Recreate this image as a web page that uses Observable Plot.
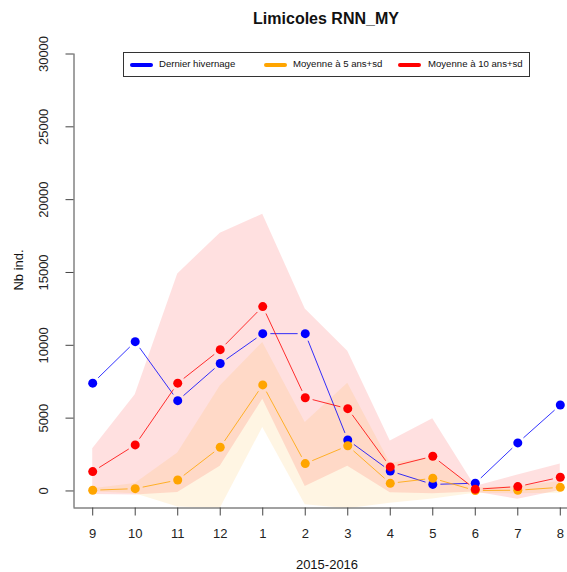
<!DOCTYPE html>
<html>
<head>
<meta charset="utf-8">
<script src="https://cdn.jsdelivr.net/npm/d3@7"></script>
<script src="https://cdn.jsdelivr.net/npm/@observablehq/plot@0.6"></script>
<style>
  html, body { margin: 0; padding: 0; background: #fff; }
  #wrap { position: relative; width: 567px; height: 572px; font-family: "Liberation Sans", Arial, sans-serif; color: #111; overflow: hidden; }
  #chart { position: absolute; left: 0; top: 0; }
  .abs { position: absolute; white-space: nowrap; }
  #title { left: 176px; width: 300px; top: 10px; text-align: center; font-weight: bold; font-size: 16px; line-height: 18px; }
  #ylab { left: 18px; top: 270px; font-size: 13px; transform: translate(-50%, -50%) rotate(-90deg); }
  #xlab { left: 327px; top: 564px; font-size: 13px; transform: translate(-50%, -50%); }
  #legend { left: 123px; top: 52px; width: 405px; height: 23px; border: 1px solid #333; background: #fff; }
  .sw { position: absolute; top: 10px; height: 4px; border-radius: 2px; width: 23px; }
  .lt { position: absolute; top: 5px; font-size: 9.6px; line-height: 12px; }
</style>
</head>
<body>
<div id="wrap">
  <div id="chart"></div>
  <div id="title" class="abs">Limicoles RNN_MY</div>
  <div id="ylab" class="abs">Nb ind.</div>
  <div id="xlab" class="abs">2015-2016</div>
  <div id="legend" class="abs"></div>
</div>
<script>
// ---- data ----
const months = ["9", "10", "11", "12", "1", "2", "3", "4", "5", "6", "7", "8"];
const dernier = [7400, 10250, 6200, 8750, 10800, 10800, 3500, 1370, 450, 530, 3300, 5900];
const moy5 = [50, 160, 750, 3000, 7280, 1880, 3100, 525, 870, 30, 50, 250];
const moy5Low = [-50, -190, -1100, -1200, 4360, -940, -1220, -850, -560, -150, -200, -150];
const moy5High = [150, 510, 2600, 7200, 10200, 4700, 7400, 1900, 2300, 210, 300, 650];
const moy10 = [1330, 3160, 7400, 9700, 12660, 6400, 5650, 1650, 2380, 115, 300, 940];
const moy10Low = [-240, -280, -100, 1700, 6300, 300, 1700, -130, -190, -70, -570, 30];
const moy10High = [2900, 6600, 14900, 17700, 19000, 12500, 9600, 3430, 4950, 300, 1100, 1850];
const yTicks = [0, 5000, 10000, 15000, 20000, 25000, 30000];
const legendLabels = ["Dernier hivernage", "Moyenne à 5 ans+sd", "Moyenne à 10 ans+sd"];
const colors = ["blue", "orange", "red"];

// ---- derived tables ----
const idx = months.map((m, i) => i + 1);
const band = (lo, hi) => idx.map((x, i) => ({x, lo: lo[i], hi: hi[i]}));
const pts = (vals) => idx.map((x, i) => ({x, y: vals[i]}));
const segs = (vals) => idx.slice(0, -1).map((x, i) => ({x1: x, y1: vals[i], x2: x + 1, y2: vals[i + 1]}));

const series = [dernier, moy5, moy10];
const xDomain = [0.56, 12.44];
const yDomain = [-1170, 30000];

const marks = [
  Plot.areaY(band(moy10Low, moy10High), {x: "x", y1: "lo", y2: "hi", fill: "#ff0000", fillOpacity: 0.12, clip: true}),
  Plot.areaY(band(moy5Low, moy5High), {x: "x", y1: "lo", y2: "hi", fill: "#ffa500", fillOpacity: 0.11, clip: true})
];
series.forEach((vals, k) => {
  marks.push(Plot.arrow(segs(vals), {x1: "x1", y1: "y1", x2: "x2", y2: "y2", stroke: colors[k], strokeWidth: 1, strokeOpacity: 0.8, headLength: 0, insetStart: 8, insetEnd: 8, bend: 0}));
});
series.forEach((vals, k) => {
  marks.push(Plot.dot(pts(vals), {x: "x", y: "y", r: 4.5, fill: colors[k], stroke: "none"}));
});
marks.push(
  Plot.ruleX([xDomain[0]], {stroke: "#444", strokeWidth: 1}),
  Plot.ruleY([yDomain[0]], {stroke: "#444", strokeWidth: 1}),
  Plot.axisY({ticks: yTicks, tickFormat: d3.format("d"), tickRotate: -90, tickSize: 8, tickPadding: 18, fontSize: 13, stroke: "#444", fill: "#222", label: null}),
  Plot.axisX({ticks: idx, tickFormat: i => months[i - 1], tickSize: 8, tickPadding: 13, fontSize: 13, stroke: "#444", fill: "#222", label: null})
);

const chart = Plot.plot({
  width: 567,
  height: 572,
  marginLeft: 73.5,
  marginRight: 0,
  marginTop: 53.5,
  marginBottom: 64.5,
  style: {fontFamily: "'Liberation Sans', Arial, sans-serif", background: "#fff"},
  x: {domain: xDomain, range: [73.5, 578.5]},
  y: {domain: yDomain},
  marks
});
document.getElementById("chart").appendChild(chart);

// ---- legend ----
const leg = document.getElementById("legend");
const swX = [6, 140, 274];
const txX = [35, 169, 304];
legendLabels.forEach((lab, k) => {
  const s = document.createElement("div");
  s.className = "sw";
  s.style.left = swX[k] + "px";
  s.style.background = colors[k];
  leg.appendChild(s);
  const t = document.createElement("div");
  t.className = "lt";
  t.style.left = txX[k] + "px";
  t.textContent = lab;
  leg.appendChild(t);
});
</script>
</body>
</html>
